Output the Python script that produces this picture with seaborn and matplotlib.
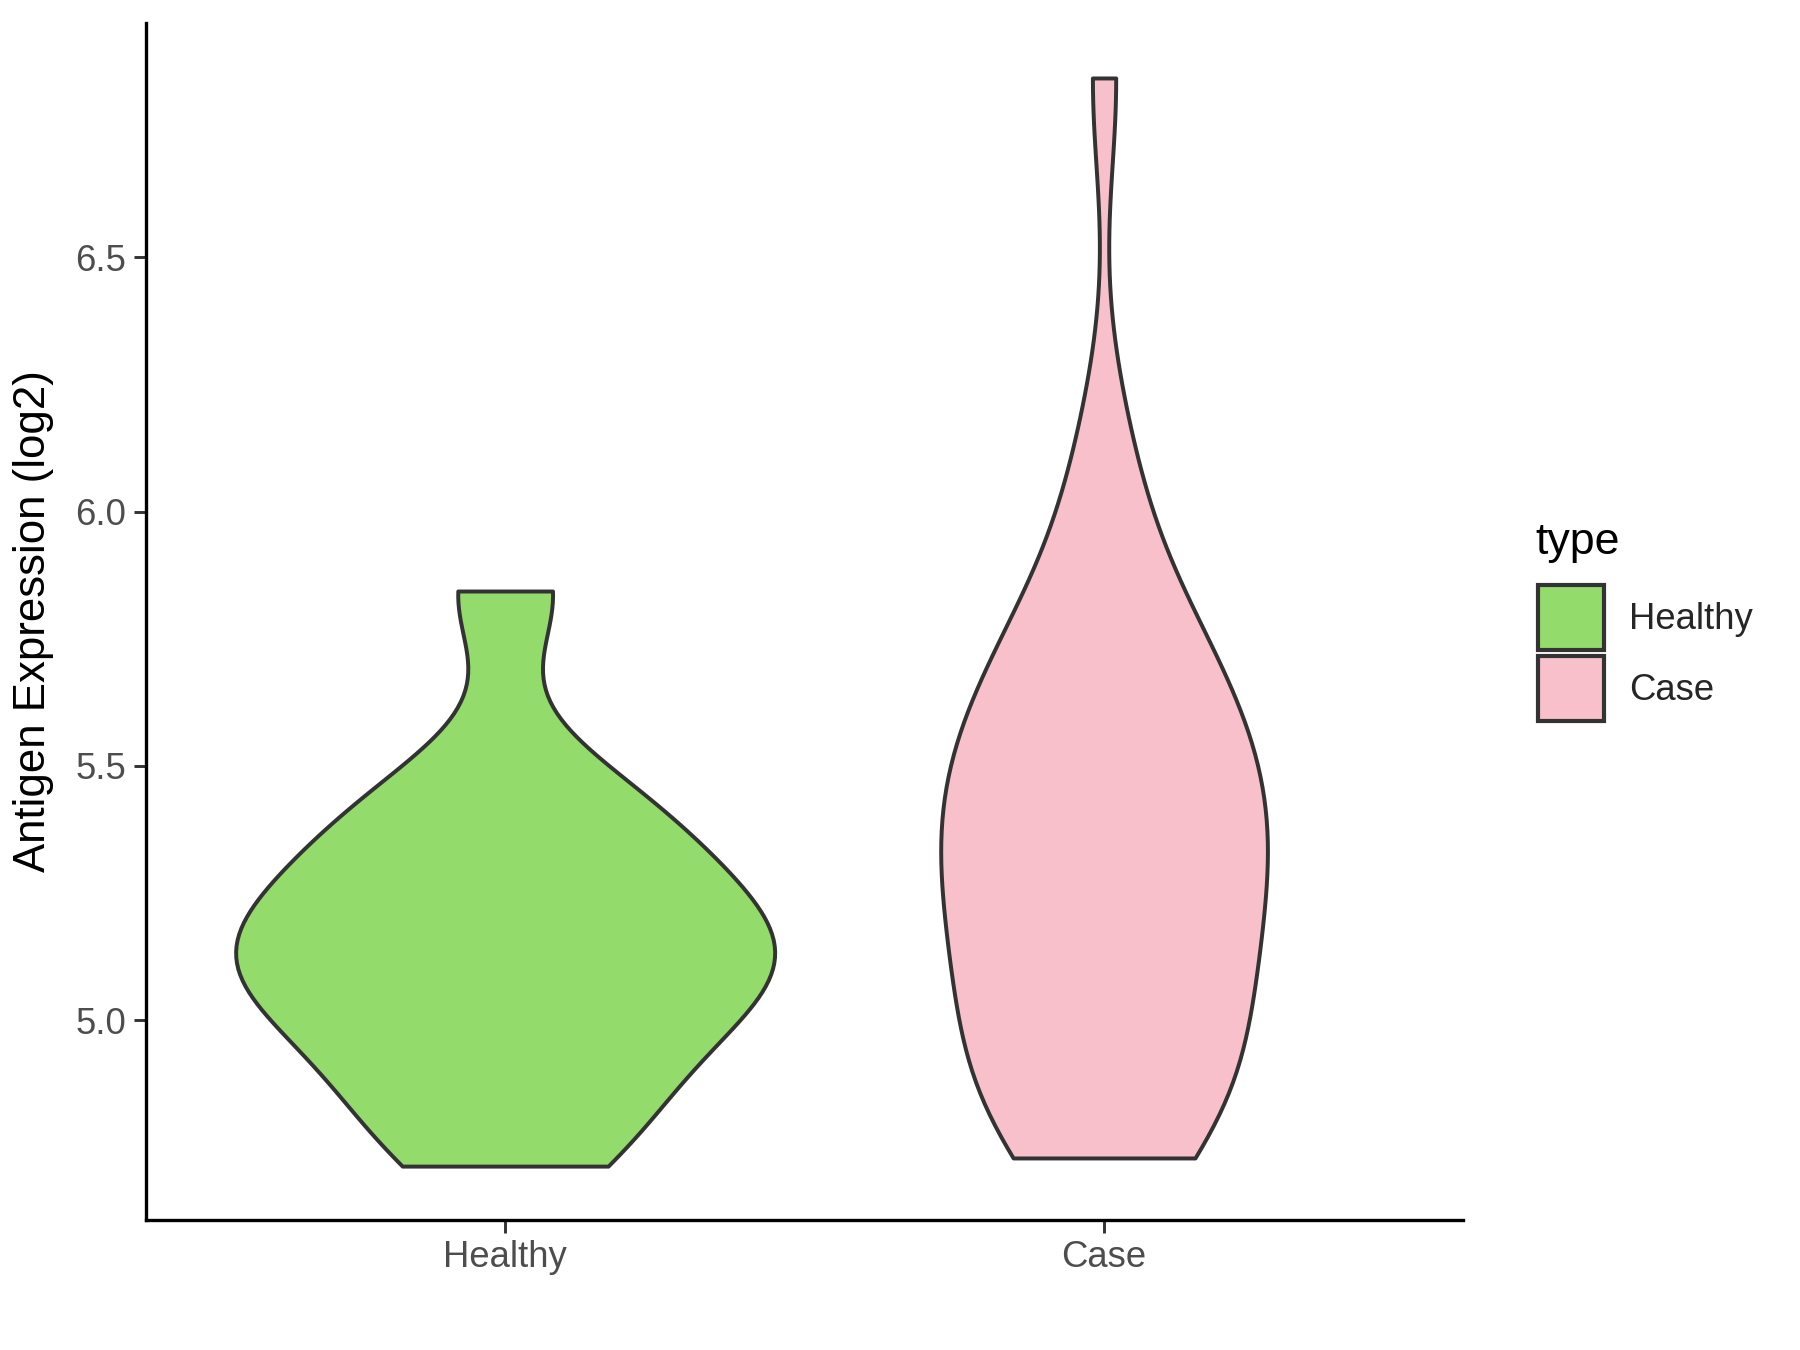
import pandas as pd
import numpy as np
import matplotlib
matplotlib.use("Agg")
import matplotlib.pyplot as plt
import seaborn as sns
from matplotlib.patches import Patch

# Data (log2 antigen expression per sample)
healthy_vals = [4.713, 4.81, 4.91, 4.99, 5.05, 5.10, 5.14, 5.18, 5.24, 5.31,
                5.39, 5.47, 5.844]
case_vals = [4.729, 4.74, 4.76, 4.80, 4.84, 4.88, 4.92, 4.96, 5.01, 5.03,
             5.06, 5.11, 5.16, 5.18, 5.21, 5.26, 5.30, 5.32, 5.34, 5.38,
             5.42, 5.44, 5.46, 5.50, 5.54, 5.58, 5.62, 5.66, 5.69, 5.73,
             5.78, 5.86, 6.00, 6.15, 6.853]
groups = ["Healthy", "Case"]
colors = {"Healthy": "#93DB6B", "Case": "#F8C0CB"}

df = pd.DataFrame({
    "type": ["Healthy"] * len(healthy_vals) + ["Case"] * len(case_vals),
    "value": healthy_vals + case_vals,
})


def nrd0(kde):
    # ggplot-style bandwidth (bw.nrd0), returned as a factor of the sd
    x = kde.dataset.ravel()
    sd = x.std(ddof=1)
    iqr = np.subtract(*np.percentile(x, [75, 25]))
    bw = 0.9 * min(sd, iqr / 1.34) * len(x) ** -0.2
    return bw / sd


sns.set_style("ticks")
plt.rcParams["font.family"] = ["Liberation Sans", "DejaVu Sans"]

fig = plt.figure(figsize=(12, 9), dpi=150)
ax = fig.add_axes([0.081, 0.0963, 0.732, 0.887])

sns.violinplot(data=df, x="type", y="value", hue="type", order=groups,
               hue_order=groups, palette=colors, saturation=1, cut=0,
               inner=None, density_norm="area", common_norm=True,
               bw_method=nrd0, width=0.9, linewidth=1.9,
               linecolor="#333333", dodge=False, legend=False, ax=ax)

ax.set_xlim(-0.6, 1.6)
ax.set_ylim(4.607, 6.962)
ax.set_yticks([5.0, 5.5, 6.0, 6.5])
ax.set_yticklabels(["5.0", "5.5", "6.0", "6.5"])
ax.set_xlabel("")
ax.set_ylabel("Antigen Expression (log2)", fontsize=21, color="black", labelpad=10)
ax.tick_params(axis="both", labelsize=17.5, labelcolor="#4D4D4D", color="#333333",
               length=6, width=1.4)
for side in ["top", "right"]:
    ax.spines[side].set_visible(False)
for side in ["left", "bottom"]:
    ax.spines[side].set_linewidth(1.6)
    ax.spines[side].set_color("black")

# legend: title drawn separately so the gap to the keys matches
fig.text(0.853, 0.598, "type", fontsize=21.5, color="black", ha="left", va="center")
handles = [Patch(facecolor=colors[g], edgecolor="#333333", linewidth=2.0, label=g)
           for g in groups]
fig.legend(handles=handles, loc="upper left", bbox_to_anchor=(0.836, 0.591),
           frameon=False, fontsize=17.5, handlelength=1.81, handleheight=2.38,
           handletextpad=0.7, labelspacing=0.15)

fig.savefig("out.png", dpi=150)
